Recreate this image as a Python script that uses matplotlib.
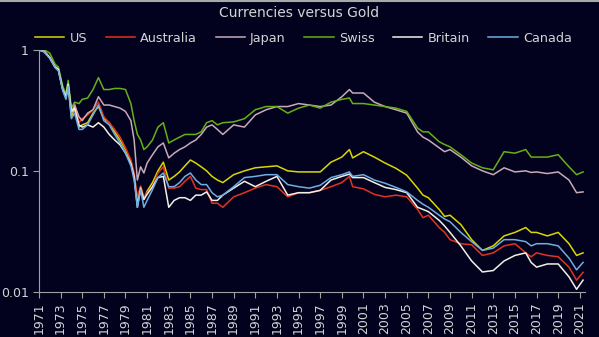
import matplotlib
matplotlib.use("Agg")
import matplotlib.pyplot as plt
from matplotlib.ticker import FixedLocator, FixedFormatter, NullLocator

# puntos en el tiempo (años)
years = [1971.0, 1971.5, 1972.0, 1972.5, 1972.8, 1973.2, 1973.5, 1973.7, 1974.0, 1974.3,
         1974.7, 1975.0, 1975.5, 1976.0, 1976.5, 1977.0, 1977.5, 1978.0, 1978.5, 1979.0,
         1979.5, 1979.8, 1980.1, 1980.4, 1980.7, 1981.0, 1981.5, 1982.0, 1982.5, 1983.0,
         1983.5, 1984.0, 1984.5, 1985.0, 1985.5, 1986.0, 1986.5, 1987.0, 1987.5, 1988.0,
         1989.0, 1990.0, 1991.0, 1992.0, 1993.0, 1994.0, 1995.0, 1996.0, 1997.0, 1998.0,
         1999.0, 1999.7, 2000.0, 2001.0, 2002.0, 2003.0, 2004.0, 2005.0, 2006.0, 2006.5,
         2007.0, 2008.0, 2008.5, 2009.0, 2010.0, 2011.0, 2012.0, 2013.0, 2014.0, 2015.0,
         2016.0, 2016.5, 2017.0, 2018.0, 2019.0, 2020.0, 2020.7, 2021.3]

us = [1.0, 0.96, 0.86, 0.72, 0.68, 0.47, 0.40, 0.51, 0.28, 0.33,
      0.23, 0.24, 0.25, 0.30, 0.34, 0.27, 0.25, 0.21, 0.18, 0.15,
      0.12, 0.09, 0.057, 0.074, 0.058, 0.068, 0.08, 0.10, 0.118, 0.084,
      0.09, 0.098, 0.11, 0.123, 0.116, 0.108, 0.10, 0.09, 0.084, 0.08,
      0.093, 0.10, 0.106, 0.108, 0.11, 0.10, 0.098, 0.098, 0.098, 0.118,
      0.13, 0.15, 0.128, 0.144, 0.13, 0.116, 0.105, 0.092, 0.072, 0.063,
      0.06, 0.048, 0.042, 0.043, 0.036, 0.027, 0.022, 0.024, 0.029, 0.031,
      0.034, 0.031, 0.031, 0.029, 0.031, 0.025, 0.020, 0.021]

australia = [1.0, 0.97, 0.87, 0.73, 0.70, 0.48, 0.42, 0.54, 0.30, 0.36,
             0.25, 0.27, 0.29, 0.32, 0.37, 0.28, 0.25, 0.22, 0.19, 0.155,
             0.123, 0.096, 0.06, 0.075, 0.06, 0.066, 0.074, 0.096, 0.108, 0.072,
             0.072, 0.074, 0.082, 0.09, 0.072, 0.07, 0.07, 0.054, 0.054, 0.05,
             0.061, 0.066, 0.072, 0.077, 0.074, 0.061, 0.066, 0.066, 0.069, 0.074,
             0.08, 0.09, 0.074, 0.071, 0.064, 0.061, 0.063, 0.061, 0.048, 0.041,
             0.043, 0.034, 0.031, 0.027, 0.025, 0.0245, 0.020, 0.021, 0.024, 0.025,
             0.021, 0.0195, 0.021, 0.020, 0.0195, 0.016, 0.0125, 0.0145]

japan = [1.0, 0.97, 0.87, 0.72, 0.69, 0.48, 0.41, 0.53, 0.30, 0.35,
         0.28, 0.26, 0.30, 0.32, 0.41, 0.35, 0.35, 0.34, 0.33, 0.31,
         0.26, 0.18, 0.084, 0.108, 0.096, 0.116, 0.136, 0.158, 0.17, 0.128,
         0.14, 0.15, 0.158, 0.17, 0.18, 0.20, 0.23, 0.24, 0.22, 0.20,
         0.24, 0.23, 0.29, 0.32, 0.34, 0.34, 0.36, 0.35, 0.34, 0.35,
         0.41, 0.47, 0.44, 0.44, 0.37, 0.34, 0.32, 0.30, 0.21, 0.19,
         0.18, 0.155, 0.144, 0.15, 0.13, 0.11, 0.10, 0.093, 0.106, 0.098,
         0.10, 0.097, 0.098, 0.095, 0.098, 0.084, 0.066, 0.067]

swiss = [1.0, 1.0, 0.94, 0.76, 0.72, 0.50, 0.43, 0.56, 0.33, 0.37,
         0.36, 0.39, 0.40, 0.47, 0.59, 0.47, 0.47, 0.48, 0.48, 0.47,
         0.36, 0.26, 0.20, 0.18, 0.15, 0.158, 0.18, 0.23, 0.25, 0.17,
         0.18, 0.19, 0.20, 0.20, 0.20, 0.21, 0.25, 0.26, 0.24, 0.25,
         0.254, 0.27, 0.32, 0.34, 0.34, 0.30, 0.33, 0.35, 0.33, 0.37,
         0.39, 0.40, 0.36, 0.36, 0.35, 0.34, 0.33, 0.31, 0.226, 0.21,
         0.21, 0.174, 0.165, 0.158, 0.136, 0.116, 0.106, 0.102, 0.144, 0.14,
         0.15, 0.13, 0.13, 0.13, 0.136, 0.108, 0.093, 0.098]

britain = [1.0, 0.97, 0.86, 0.72, 0.69, 0.47, 0.41, 0.52, 0.31, 0.33,
           0.24, 0.23, 0.24, 0.23, 0.25, 0.23, 0.20, 0.18, 0.164, 0.14,
           0.115, 0.09, 0.05, 0.072, 0.058, 0.064, 0.074, 0.088, 0.09, 0.05,
           0.057, 0.06, 0.06, 0.057, 0.063, 0.063, 0.067, 0.057, 0.057, 0.063,
           0.072, 0.082, 0.074, 0.082, 0.09, 0.063, 0.066, 0.066, 0.069, 0.084,
           0.09, 0.094, 0.088, 0.088, 0.08, 0.073, 0.07, 0.066, 0.05, 0.048,
           0.046, 0.039, 0.035, 0.031, 0.024, 0.018, 0.0146, 0.015, 0.018, 0.02,
           0.021, 0.0175, 0.016, 0.017, 0.017, 0.0133, 0.0105, 0.0125]

canada = [1.0, 0.96, 0.85, 0.71, 0.67, 0.46, 0.39, 0.50, 0.27, 0.30,
          0.22, 0.22, 0.24, 0.29, 0.35, 0.26, 0.24, 0.20, 0.17, 0.14,
          0.11, 0.084, 0.05, 0.07, 0.05, 0.057, 0.07, 0.088, 0.096, 0.074,
          0.074, 0.08, 0.09, 0.096, 0.084, 0.077, 0.077, 0.066, 0.061, 0.063,
          0.074, 0.088, 0.09, 0.093, 0.093, 0.077, 0.074, 0.072, 0.076, 0.088,
          0.093, 0.098, 0.09, 0.093, 0.084, 0.079, 0.073, 0.067, 0.057, 0.053,
          0.05, 0.043, 0.04, 0.038, 0.031, 0.026, 0.022, 0.023, 0.027, 0.027,
          0.026, 0.024, 0.025, 0.025, 0.024, 0.019, 0.0152, 0.0175]

series_names = ['US', 'Australia', 'Japan', 'Swiss', 'Britain', 'Canada']
series_values = [us, australia, japan, swiss, britain, canada]
colores = ['#d8d800', '#e03420', '#c8aab8', '#66b014', '#f2f0e6', '#6eaee0']

year_ticks = list(range(1971, 2022, 2))
y_ticks = [1, 0.1, 0.01]
y_labels = ['1', '0.1', '0.01']

fondo = '#03021e'
texto = '#d4d4d4'

fig = plt.figure(figsize=(5.99, 3.37), dpi=100, facecolor=fondo)
ax = fig.add_axes([0.065, 0.134, 0.912, 0.718], facecolor=fondo)

for nombre, valores, c in zip(series_names, series_values, colores):
    ax.plot(years, valores, color=c, lw=1.1, label=nombre)

ax.set_yscale('log')
ax.set_ylim(0.01, 1)
ax.set_xlim(1971, 2021.5)
ax.yaxis.set_major_locator(FixedLocator(y_ticks))
ax.yaxis.set_major_formatter(FixedFormatter(y_labels))
ax.yaxis.set_minor_locator(NullLocator())
ax.set_xticks(year_ticks)
ax.set_xticklabels([str(y) for y in year_ticks], rotation=90)

for lado in ['top', 'right']:
    ax.spines[lado].set_visible(False)
for lado in ['left', 'bottom']:
    ax.spines[lado].set_color('#a0a0a0')
ax.tick_params(colors='#a0a0a0', labelcolor=texto, labelsize=9, length=4)

fig.text(0.5, 0.96, 'Currencies versus Gold', ha='center', va='center',
         color=texto, fontsize=10)
ley = ax.legend(loc='center', bbox_to_anchor=(0.484, 1.049), ncol=6, frameon=False,
                fontsize=9.2, handlelength=2.3, columnspacing=1.45, handletextpad=0.4,
                borderpad=0, borderaxespad=0)
for t in ley.get_texts():
    t.set_color(texto)

fig.add_artist(plt.Line2D([0, 1], [0.998, 0.998], transform=fig.transFigure,
                          color='#a8a8a8', lw=1.5))

plt.savefig('out.png', dpi=100, facecolor=fondo)
print('Gráfico guardado como out.png')
